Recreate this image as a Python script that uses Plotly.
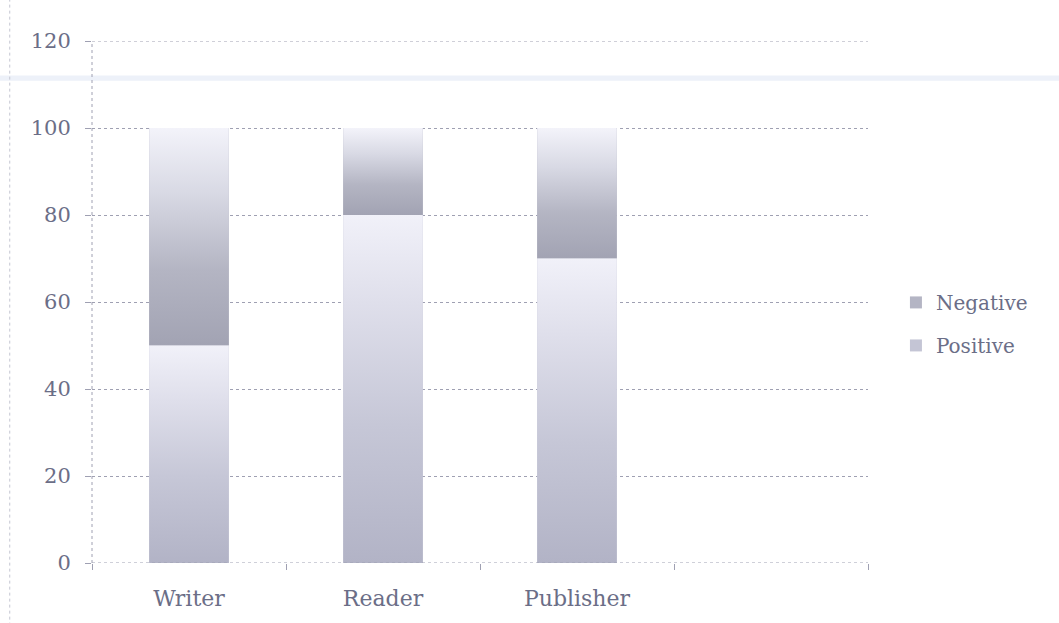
import plotly.graph_objects as go

# Share of reactions per role, stacked to 100
categories = ["Writer", "Reader", "Publisher"]
positive = [50, 80, 70]
negative = [50, 20, 30]

y_ticks = [0, 20, 40, 60, 80, 100, 120]

BAR_WIDTH = 0.41
TEXT_COLOR = "#6b6e87"
GRID_COLOR = "#9fa0b2"
FONT = "DejaVu Serif"
FONT_SIZE = 21

pos_style = ("#c4c5d5", [[0, "#b2b3c6"], [0.4, "#c6c7d7"], [0.75, "#dfdfeb"], [1, "#f1f1f9"]])
neg_style = ("#b4b5c4", [[0, "#a2a3b3"], [0.35, "#b4b5c3"], [0.7, "#d8d9e4"], [1, "#f3f3fa"]])

# Positive sits at the bottom of each stack, Negative on top of it
segments = [
    ("Negative", negative, positive, neg_style),
    ("Positive", positive, [0] * len(positive), pos_style),
]

fig = go.Figure()

x_pos = list(range(len(categories)))
for name, values, bases, (solid, scale) in segments:
    # stacked bar segment (also provides the legend swatch)
    fig.add_trace(go.Bar(
        x=x_pos, y=values, base=bases, name=name, width=BAR_WIDTH,
        marker=dict(color=solid, line=dict(width=0)),
        legendgroup=name,
    ))
    # vertical gradient laid over each segment: light at the top, darker below
    for xi, b, v in zip(x_pos, bases, values):
        x0, x1 = xi - BAR_WIDTH / 2, xi + BAR_WIDTH / 2
        fig.add_trace(go.Scatter(
            x=[x0, x1, x1, x0, x0], y=[b, b, b + v, b + v, b],
            mode="none", fill="toself",
            fillgradient=dict(type="vertical", colorscale=scale),
            hoverinfo="skip", showlegend=False, legendgroup=name,
        ))

n_slots = len(categories) + 1
fig.update_layout(
    width=1059, height=623,
    margin=dict(l=92, r=191, t=41, b=60),
    paper_bgcolor="white", plot_bgcolor="white",
    barmode="overlay",
    font=dict(family=FONT, color=TEXT_COLOR, size=FONT_SIZE),
    legend=dict(
        x=1.036, y=0.458, xanchor="left", yanchor="middle",
        traceorder="grouped", tracegroupgap=14,
        font=dict(family=FONT, size=20, color=TEXT_COLOR),
        bgcolor="rgba(0,0,0,0)", itemwidth=30,
    ),
    showlegend=True,
)

fig.update_xaxes(
    range=[-0.5, n_slots - 0.5],
    tickvals=x_pos, ticktext=categories, ticks="",
    ticklabelstandoff=20,
    showgrid=False, zeroline=False, showline=False,
    minor=dict(tickvals=[i - 0.5 for i in range(n_slots + 1)],
               ticks="outside", ticklen=6, tickcolor=GRID_COLOR, showgrid=False),
    tickfont=dict(family=FONT, size=22, color=TEXT_COLOR),
)
fig.update_yaxes(
    range=[0, 120], tickvals=y_ticks,
    showgrid=True, gridcolor=GRID_COLOR, griddash="dot", gridwidth=1,
    zeroline=False, showline=False,
    ticks="outside", ticklen=6, tickcolor=GRID_COLOR,
    ticklabelstandoff=10,
    tickfont=dict(family=FONT, size=FONT_SIZE, color=TEXT_COLOR),
)

# dotted axis lines and the top grid line
dot = dict(color=GRID_COLOR, width=1, dash="dot")
fig.add_shape(type="line", xref="x domain", yref="y", x0=0, x1=1, y0=0, y1=0, line=dot)
fig.add_shape(type="line", xref="x domain", yref="y", x0=0, x1=1, y0=120, y1=120, line=dot)
fig.add_shape(type="line", xref="x domain", yref="y domain", x0=0, x1=0, y0=0, y1=1, line=dot)

# faint page marks around the chart
fig.add_shape(type="rect", xref="paper", yref="paper",
              x0=-0.2, x1=1.3, y0=0.924, y1=0.934,
              fillcolor="#edf1f9", line=dict(width=0), layer="below")
fig.add_shape(type="line", xref="paper", yref="paper",
              x0=-0.106, x1=-0.106, y0=-0.12, y1=1.08,
              line=dict(color="#c5c6d2", width=1, dash="dot"), layer="below")

fig.write_html("out.html")
